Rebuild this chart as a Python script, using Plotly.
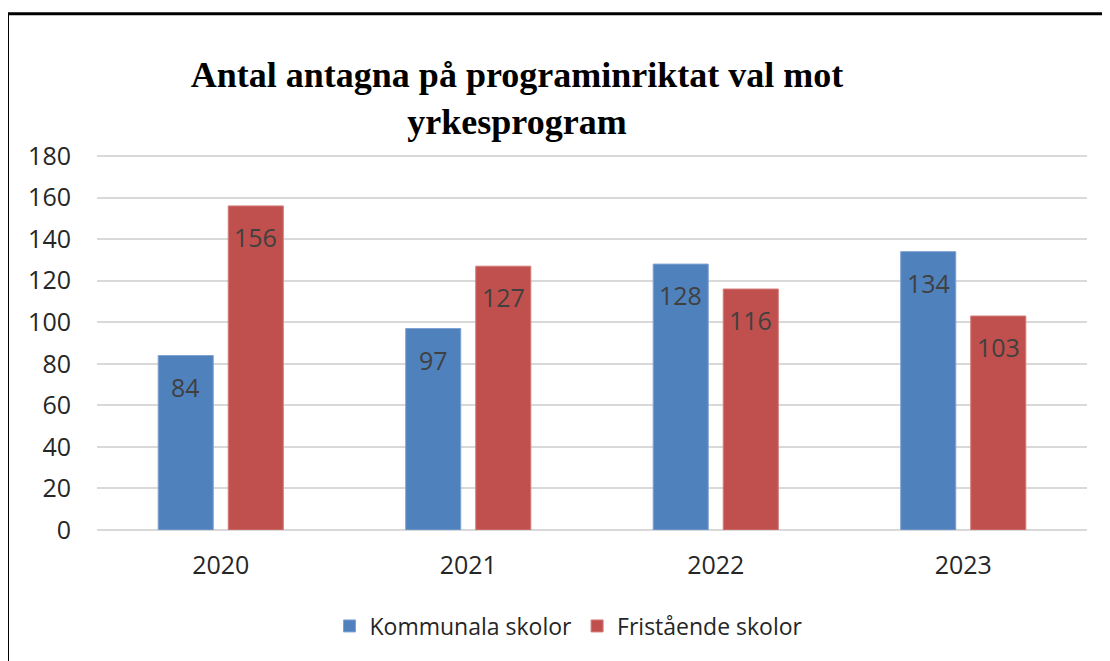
import plotly.graph_objects as go

years = ["2020", "2021", "2022", "2023"]
kommunala = [84, 97, 128, 134]
fristaende = [156, 127, 116, 103]
series_names = ["Kommunala skolor", "Fristående skolor"]
colors = ["#4F81BD", "#C0504D"]
edge_colors = ["#7FA2D2", "#D47C7A"]
title_text = "Antal antagna på programinriktat val mot<br>yrkesprogram"
y_ticks = [0, 20, 40, 60, 80, 100, 120, 140, 160, 180]

# page body has an 8px margin; work in page coordinates and convert
OFF = 8
W, H = 1110 - OFF, 661 - OFF
# plot area in page pixels
PX0, PX1, PY0, PY1 = 97, 1087, 154, 530
L, R = PX0 - OFF, W - (PX1 - OFF)
T, B = PY0 - OFF, H - (PY1 - OFF)

def px_to_paper_x(px):
    return (px - PX0) / (PX1 - PX0)

def px_to_paper_y(py):
    return (PY1 - py) / (PY1 - PY0)

fig = go.Figure()
for name, vals, c, ec in zip(series_names, [kommunala, fristaende], colors, edge_colors):
    fig.add_trace(go.Bar(
        x=years, y=vals, name=name,
        marker=dict(color=c, line=dict(color=ec, width=1)),
        hoverinfo="x+y",
    ))

annotations = []
for k, vals in enumerate([kommunala, fristaende]):
    shift = -35 if k == 0 else 35
    for idx, v in enumerate(vals):
        annotations.append(dict(
            x=idx, y=v, xref="x", yref="y", text=str(v), showarrow=False,
            xshift=shift, yshift=-31, yanchor="middle", xanchor="center",
            font=dict(family="Open Sans", size=25, color="#404040"),
        ))

fig.update_layout(
    width=W, height=H,
    margin=dict(l=L, r=R, t=T, b=B, pad=0, autoexpand=False),
    paper_bgcolor="white", plot_bgcolor="white",
    barmode="group", bargap=0.434, bargroupgap=0.214,
    title=dict(
        text=title_text,
        font=dict(family="Liberation Serif", size=36, color="#000000", weight="bold"),
        x=px_to_paper_x(517), xanchor="center", xref="paper",
        y=1 - 79 / H, yanchor="top", yref="container",
    ),
    showlegend=True,
    legend=dict(
        orientation="h", x=px_to_paper_x(569), xanchor="center",
        y=px_to_paper_y(626), yanchor="middle",
        font=dict(family="Open Sans", size=23, color="#262626"),
        itemwidth=30, traceorder="normal",
    ),
    annotations=annotations,
    shapes=[dict(
        type="rect", xref="paper", yref="paper",
        x0=px_to_paper_x(7.5), x1=px_to_paper_x(1125),
        y0=px_to_paper_y(680), y1=px_to_paper_y(13.8),
        line=dict(color="black", width=3), fillcolor="rgba(0,0,0,0)",
        layer="above",
    )],
)

fig.update_xaxes(
    type="category", range=[-0.5, 3.5], automargin=False,
    showgrid=False, showline=False, zeroline=False,
    ticks="", ticklabelstandoff=18,
    tickfont=dict(family="Open Sans", size=25, color="#262626"),
)
fig.update_yaxes(
    range=[0, 181], tickvals=y_ticks, automargin=False, showgrid=True,
    gridcolor="#D9D9D9", gridwidth=2, zeroline=True, zerolinecolor="#D9D9D9",
    zerolinewidth=2, showline=False, ticks="", ticklabelstandoff=25,
    tickfont=dict(family="Open Sans", size=25, color="#262626"),
)

fig.write_html("out.html")
